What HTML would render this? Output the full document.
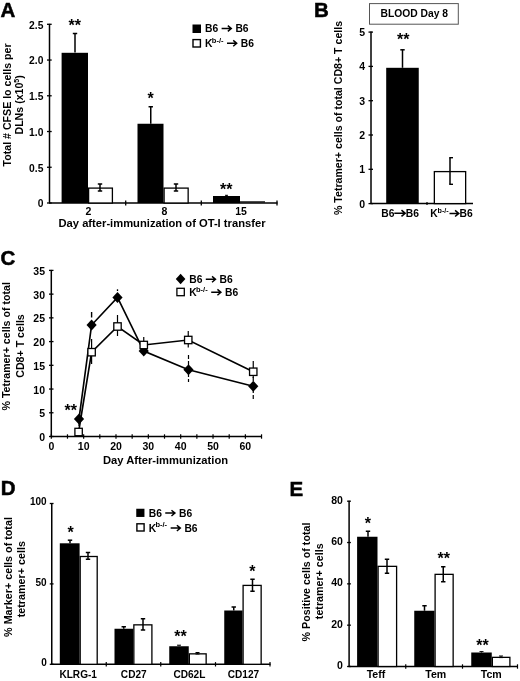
<!DOCTYPE html><html><head><meta charset="utf-8"><style>html,body{margin:0;padding:0;background:#fff}svg{display:block;filter:blur(0.3px)}</style></head><body>
<svg width="520" height="681" viewBox="0 0 520 681" font-family="Liberation Sans, sans-serif" font-weight="bold" fill="#000">
<rect width="520" height="681" fill="#fff"/>
<text x="0.5" y="17.3" font-size="20.5" text-anchor="start" stroke="#000" stroke-width="0.5">A</text>
<line x1="49.5" y1="23.8" x2="49.5" y2="203" stroke="#000" stroke-width="1.5" />
<line x1="49.0" y1="203" x2="277.5" y2="203" stroke="#000" stroke-width="1.5" />
<line x1="47.0" y1="203.0" x2="51.7" y2="203.0" stroke="#000" stroke-width="1.3" />
<text x="43.4" y="207.3" font-size="10.3" text-anchor="end" >0</text>
<line x1="47.0" y1="167.26" x2="51.7" y2="167.26" stroke="#000" stroke-width="1.3" />
<text x="43.4" y="171.56" font-size="10.3" text-anchor="end" >0.5</text>
<line x1="47.0" y1="131.52" x2="51.7" y2="131.52" stroke="#000" stroke-width="1.3" />
<text x="43.4" y="135.82000000000002" font-size="10.3" text-anchor="end" >1.0</text>
<line x1="47.0" y1="95.78000000000002" x2="51.7" y2="95.78000000000002" stroke="#000" stroke-width="1.3" />
<text x="43.4" y="100.08000000000001" font-size="10.3" text-anchor="end" >1.5</text>
<line x1="47.0" y1="60.04000000000002" x2="51.7" y2="60.04000000000002" stroke="#000" stroke-width="1.3" />
<text x="43.4" y="64.34000000000002" font-size="10.3" text-anchor="end" >2.0</text>
<line x1="47.0" y1="24.30000000000001" x2="51.7" y2="24.30000000000001" stroke="#000" stroke-width="1.3" />
<text x="43.4" y="28.600000000000012" font-size="10.3" text-anchor="end" >2.5</text>
<line x1="125.7" y1="200.5" x2="125.7" y2="205.5" stroke="#000" stroke-width="1.3" />
<line x1="201.3" y1="200.5" x2="201.3" y2="205.5" stroke="#000" stroke-width="1.3" />
<line x1="277" y1="200.5" x2="277" y2="205.5" stroke="#000" stroke-width="1.3" />
<rect x="61.6" y="52.8" width="26.4" height="150.2" fill="#000"/>
<rect x="88.6" y="188.1" width="23.8" height="14.9" fill="#fff" stroke="#000" stroke-width="1.3"/>
<line x1="75" y1="33.5" x2="75" y2="52.5" stroke="#000" stroke-width="1.5" />
<line x1="72.8" y1="33.5" x2="77.2" y2="33.5" stroke="#000" stroke-width="1.5" />
<line x1="100" y1="184" x2="100" y2="191" stroke="#000" stroke-width="1.5" />
<line x1="97.8" y1="184" x2="102.2" y2="184" stroke="#000" stroke-width="1.5" />
<line x1="97.8" y1="191" x2="102.2" y2="191" stroke="#000" stroke-width="1.5" />
<rect x="137.5" y="123.75" width="26.0" height="79.25" fill="#000"/>
<rect x="164.1" y="188.1" width="24.05" height="14.9" fill="#fff" stroke="#000" stroke-width="1.3"/>
<line x1="150.75" y1="106.75" x2="150.75" y2="123.75" stroke="#000" stroke-width="1.5" />
<line x1="148.55" y1="106.75" x2="152.95" y2="106.75" stroke="#000" stroke-width="1.5" />
<line x1="176" y1="184" x2="176" y2="191" stroke="#000" stroke-width="1.5" />
<line x1="173.8" y1="184" x2="178.2" y2="184" stroke="#000" stroke-width="1.5" />
<line x1="173.8" y1="191" x2="178.2" y2="191" stroke="#000" stroke-width="1.5" />
<rect x="213" y="196" width="27" height="7" fill="#000"/>
<line x1="240" y1="201.9" x2="265" y2="201.9" stroke="#000" stroke-width="1.2" />
<line x1="226.5" y1="195.3" x2="226.5" y2="196" stroke="#000" stroke-width="1" />
<line x1="225.0" y1="195.3" x2="228.0" y2="195.3" stroke="#000" stroke-width="1" />
<text x="74.8" y="30.5" font-size="16" text-anchor="middle" >**</text>
<text x="150.5" y="104" font-size="16" text-anchor="middle" >*</text>
<text x="226.3" y="195" font-size="16" text-anchor="middle" >**</text>
<text x="88.5" y="215.3" font-size="10.5" text-anchor="middle" >2</text>
<text x="164.3" y="215.3" font-size="10.5" text-anchor="middle" >8</text>
<text x="241" y="215.3" font-size="10.5" text-anchor="middle" >15</text>
<text x="162" y="226.7" font-size="11.2" text-anchor="middle" >Day after-immunization of OT-I transfer</text>
<text transform="translate(10.5,104.9) rotate(-90)" font-size="10.62" text-anchor="middle">Total # CFSE lo cells per</text>
<text transform="translate(22.6,104.8) rotate(-90)" font-size="10.62" text-anchor="middle">DLNs (x10<tspan font-size="7.2" dy="-3.8">5</tspan><tspan dy="3.8">)</tspan></text>
<rect x="192.5" y="24.5" width="8.5" height="8.5" fill="#000"/>
<rect x="193" y="39.6" width="7.4" height="7.4" fill="#fff" stroke="#000" stroke-width="1.4"/>
<text x="205.1" y="32.2" font-size="10.3" text-anchor="start" >B6</text>
<path d="M221.6,28.492000000000004 H230.7 M227.82,25.592000000000006 L231.29999999999998,28.492000000000004 L227.82,31.392000000000003" fill="none" stroke="#000" stroke-width="1.45" stroke-linejoin="miter"/>
<text x="235.4" y="32.2" font-size="10.3" text-anchor="start" >B6</text>
<text x="205.1" y="47" font-size="10.3" text-anchor="start" >K</text>
<text x="211.79999999999998" y="42.571" font-size="7.519" text-anchor="start" >b-/-</text>
<path d="M227.0,43.292 H236.1 M233.22,40.392 L236.7,43.292 L233.22,46.192" fill="none" stroke="#000" stroke-width="1.45" stroke-linejoin="miter"/>
<text x="240.8" y="47" font-size="10.3" text-anchor="start" >B6</text>
<text x="314" y="17.3" font-size="20.5" text-anchor="start" stroke="#000" stroke-width="0.5">B</text>
<rect x="369.5" y="3.6" width="88.8" height="20.6" fill="#fff" stroke="#555" stroke-width="1"/>
<text x="414.3" y="17.4" font-size="10.3" text-anchor="middle" >BLOOD Day 8</text>
<line x1="371" y1="31.6" x2="371" y2="203.6" stroke="#000" stroke-width="1.5" />
<line x1="370.5" y1="203.6" x2="473" y2="203.6" stroke="#000" stroke-width="1.5" />
<line x1="368.5" y1="203.6" x2="373" y2="203.6" stroke="#000" stroke-width="1.3" />
<text x="365.2" y="207.5" font-size="10.5" text-anchor="end" >0</text>
<line x1="368.5" y1="169.3" x2="373" y2="169.3" stroke="#000" stroke-width="1.3" />
<text x="365.2" y="173.20000000000002" font-size="10.5" text-anchor="end" >1</text>
<line x1="368.5" y1="135.0" x2="373" y2="135.0" stroke="#000" stroke-width="1.3" />
<text x="365.2" y="138.9" font-size="10.5" text-anchor="end" >2</text>
<line x1="368.5" y1="100.7" x2="373" y2="100.7" stroke="#000" stroke-width="1.3" />
<text x="365.2" y="104.60000000000001" font-size="10.5" text-anchor="end" >3</text>
<line x1="368.5" y1="66.4" x2="373" y2="66.4" stroke="#000" stroke-width="1.3" />
<text x="365.2" y="70.30000000000001" font-size="10.5" text-anchor="end" >4</text>
<line x1="368.5" y1="32.099999999999994" x2="373" y2="32.099999999999994" stroke="#000" stroke-width="1.3" />
<text x="365.2" y="35.99999999999999" font-size="10.5" text-anchor="end" >5</text>
<line x1="427" y1="202.1" x2="427" y2="205.1" stroke="#000" stroke-width="1.2" />
<rect x="386.2" y="67.8" width="32.55000000000001" height="135.8" fill="#000"/>
<line x1="402.5" y1="49.8" x2="402.5" y2="67.8" stroke="#000" stroke-width="1.5" />
<line x1="400.3" y1="49.8" x2="404.7" y2="49.8" stroke="#000" stroke-width="1.5" />
<rect x="434.35" y="171.6" width="31.3" height="31.999999999999993" fill="#fff" stroke="#000" stroke-width="1.3"/>
<line x1="450" y1="157.5" x2="450" y2="184.5" stroke="#000" stroke-width="1.5" />
<line x1="449.3" y1="157.7" x2="453" y2="157.7" stroke="#000" stroke-width="1.4" />
<line x1="449.3" y1="184.3" x2="453" y2="184.3" stroke="#000" stroke-width="1.4" />
<text x="403.2" y="45.2" font-size="16" text-anchor="middle" >**</text>
<text x="381.3" y="217" font-size="10.3" text-anchor="start" >B6</text>
<path d="M394.3,213.3 H404.59999999999997 M401.47999999999996,210.20000000000002 L405.2,213.3 L401.47999999999996,216.4" fill="none" stroke="#000" stroke-width="1.5" stroke-linejoin="miter"/>
<text x="405.8" y="217" font-size="10.3" text-anchor="start" >B6</text>
<text x="430.2" y="217" font-size="10.3" text-anchor="start" >K</text>
<text x="437.5" y="212.6" font-size="7.2" text-anchor="start" >b-/-</text>
<path d="M449.5,213.4 H458.2 M455.08,210.3 L458.8,213.4 L455.08,216.5" fill="none" stroke="#000" stroke-width="1.5" stroke-linejoin="miter"/>
<text x="459.6" y="217" font-size="10.3" text-anchor="start" >B6</text>
<text transform="translate(342,118) rotate(-90)" font-size="10.6" text-anchor="middle">% Tetramer+ cells of total CD8+ T cells</text>
<text x="0.5" y="265.3" font-size="20.5" text-anchor="start" stroke="#000" stroke-width="0.5">C</text>
<line x1="51.3" y1="269.9" x2="51.3" y2="436.5" stroke="#000" stroke-width="1.5" />
<line x1="50.8" y1="436.5" x2="262" y2="436.5" stroke="#000" stroke-width="1.5" />
<line x1="49.0" y1="436.5" x2="53.5" y2="436.5" stroke="#000" stroke-width="1.3" />
<text x="45" y="441.1" font-size="10.5" text-anchor="end" >0</text>
<line x1="49.0" y1="412.77142857142854" x2="53.5" y2="412.77142857142854" stroke="#000" stroke-width="1.3" />
<text x="45" y="417.37142857142857" font-size="10.5" text-anchor="end" >5</text>
<line x1="49.0" y1="389.04285714285714" x2="53.5" y2="389.04285714285714" stroke="#000" stroke-width="1.3" />
<text x="45" y="393.64285714285717" font-size="10.5" text-anchor="end" >10</text>
<line x1="49.0" y1="365.3142857142857" x2="53.5" y2="365.3142857142857" stroke="#000" stroke-width="1.3" />
<text x="45" y="369.9142857142857" font-size="10.5" text-anchor="end" >15</text>
<line x1="49.0" y1="341.5857142857143" x2="53.5" y2="341.5857142857143" stroke="#000" stroke-width="1.3" />
<text x="45" y="346.1857142857143" font-size="10.5" text-anchor="end" >20</text>
<line x1="49.0" y1="317.85714285714283" x2="53.5" y2="317.85714285714283" stroke="#000" stroke-width="1.3" />
<text x="45" y="322.45714285714286" font-size="10.5" text-anchor="end" >25</text>
<line x1="49.0" y1="294.1285714285714" x2="53.5" y2="294.1285714285714" stroke="#000" stroke-width="1.3" />
<text x="45" y="298.7285714285714" font-size="10.5" text-anchor="end" >30</text>
<line x1="49.0" y1="270.4" x2="53.5" y2="270.4" stroke="#000" stroke-width="1.3" />
<text x="45" y="275.0" font-size="10.5" text-anchor="end" >35</text>
<line x1="51.3" y1="434.3" x2="51.3" y2="438.7" stroke="#000" stroke-width="1.2" />
<line x1="67.47307692307692" y1="434.3" x2="67.47307692307692" y2="438.7" stroke="#000" stroke-width="1.2" />
<line x1="83.64615384615385" y1="434.3" x2="83.64615384615385" y2="438.7" stroke="#000" stroke-width="1.2" />
<line x1="99.81923076923077" y1="434.3" x2="99.81923076923077" y2="438.7" stroke="#000" stroke-width="1.2" />
<line x1="115.99230769230769" y1="434.3" x2="115.99230769230769" y2="438.7" stroke="#000" stroke-width="1.2" />
<line x1="132.1653846153846" y1="434.3" x2="132.1653846153846" y2="438.7" stroke="#000" stroke-width="1.2" />
<line x1="148.33846153846156" y1="434.3" x2="148.33846153846156" y2="438.7" stroke="#000" stroke-width="1.2" />
<line x1="164.51153846153846" y1="434.3" x2="164.51153846153846" y2="438.7" stroke="#000" stroke-width="1.2" />
<line x1="180.68461538461537" y1="434.3" x2="180.68461538461537" y2="438.7" stroke="#000" stroke-width="1.2" />
<line x1="196.85769230769233" y1="434.3" x2="196.85769230769233" y2="438.7" stroke="#000" stroke-width="1.2" />
<line x1="213.03076923076924" y1="434.3" x2="213.03076923076924" y2="438.7" stroke="#000" stroke-width="1.2" />
<line x1="229.20384615384614" y1="434.3" x2="229.20384615384614" y2="438.7" stroke="#000" stroke-width="1.2" />
<line x1="245.3769230769231" y1="434.3" x2="245.3769230769231" y2="438.7" stroke="#000" stroke-width="1.2" />
<line x1="261.55" y1="434.3" x2="261.55" y2="438.7" stroke="#000" stroke-width="1.2" />
<text x="51.3" y="450.3" font-size="10.5" text-anchor="middle" >0</text>
<text x="83.64615384615385" y="450.3" font-size="10.5" text-anchor="middle" >10</text>
<text x="115.99230769230769" y="450.3" font-size="10.5" text-anchor="middle" >20</text>
<text x="148.33846153846156" y="450.3" font-size="10.5" text-anchor="middle" >30</text>
<text x="180.68461538461537" y="450.3" font-size="10.5" text-anchor="middle" >40</text>
<text x="213.03076923076924" y="450.3" font-size="10.5" text-anchor="middle" >50</text>
<text x="245.3769230769231" y="450.3" font-size="10.5" text-anchor="middle" >60</text>
<text x="165.5" y="464" font-size="11.2" text-anchor="middle" >Day After-immunization</text>
<text transform="translate(10.2,346.3) rotate(-90)" font-size="10.65" text-anchor="middle">% Tetramer+ cells of total</text>
<text transform="translate(24,346) rotate(-90)" font-size="10.65" text-anchor="middle">CD8+ T cells</text>
<polyline fill="none" stroke="#000" stroke-width="1.65" points="79,418.9 91.6,325 117.5,297.5 143.75,351 188.5,369.75 253.25,386.25"/>
<polyline fill="none" stroke="#000" stroke-width="1.65" points="78.6,432 91.6,352.2 117.5,326.5 143.75,345 188.25,340 253.25,371.75"/>
<line x1="91.6" y1="312" x2="91.6" y2="317.5" stroke="#000" stroke-width="1.4" />
<line x1="117.5" y1="289.3" x2="117.5" y2="291" stroke="#000" stroke-width="1.3" />
<line x1="188.5" y1="355" x2="188.5" y2="382" stroke="#000" stroke-width="1.2" stroke-dasharray="4 2"/>
<line x1="253.25" y1="377" x2="253.25" y2="400" stroke="#000" stroke-width="1.2" stroke-dasharray="4 2"/>
<line x1="79" y1="418" x2="79" y2="426" stroke="#000" stroke-width="1.2" />
<line x1="91.6" y1="339" x2="91.6" y2="364" stroke="#000" stroke-width="1.2" />
<line x1="117.5" y1="315" x2="117.5" y2="336" stroke="#000" stroke-width="1.2" />
<line x1="143.75" y1="337" x2="143.75" y2="352" stroke="#000" stroke-width="1.2" />
<line x1="188.25" y1="331" x2="188.25" y2="347.5" stroke="#000" stroke-width="1.2" />
<line x1="253.25" y1="361" x2="253.25" y2="378" stroke="#000" stroke-width="1.2" />
<polygon points="79,413.4 84.1,418.9 79,424.4 73.9,418.9" fill="#000"/>
<polygon points="91.6,319.5 96.69999999999999,325 91.6,330.5 86.5,325" fill="#000"/>
<polygon points="117.5,292.0 122.6,297.5 117.5,303.0 112.4,297.5" fill="#000"/>
<polygon points="143.75,345.5 148.85,351 143.75,356.5 138.65,351" fill="#000"/>
<polygon points="188.5,364.25 193.6,369.75 188.5,375.25 183.4,369.75" fill="#000"/>
<polygon points="253.25,380.75 258.35,386.25 253.25,391.75 248.15,386.25" fill="#000"/>
<rect x="74.89999999999999" y="428.3" width="7.4" height="7.4" fill="#fff" stroke="#000" stroke-width="1.3"/>
<rect x="87.89999999999999" y="348.5" width="7.4" height="7.4" fill="#fff" stroke="#000" stroke-width="1.3"/>
<rect x="113.8" y="322.8" width="7.4" height="7.4" fill="#fff" stroke="#000" stroke-width="1.3"/>
<rect x="140.05" y="341.3" width="7.4" height="7.4" fill="#fff" stroke="#000" stroke-width="1.3"/>
<rect x="184.55" y="336.3" width="7.4" height="7.4" fill="#fff" stroke="#000" stroke-width="1.3"/>
<rect x="249.55" y="368.05" width="7.4" height="7.4" fill="#fff" stroke="#000" stroke-width="1.3"/>
<text x="70.8" y="416.2" font-size="16" text-anchor="middle" >**</text>
<polygon points="180.6,273.7 185.4,279 180.6,284.3 175.79999999999998,279" fill="#000"/>
<rect x="176.9" y="288.3" width="7.4" height="7.4" fill="#fff" stroke="#000" stroke-width="1.3"/>
<text x="189.3" y="283" font-size="10.3" text-anchor="start" >B6</text>
<path d="M205.8,279.292 H214.9 M212.02,276.392 L215.5,279.292 L212.02,282.19199999999995" fill="none" stroke="#000" stroke-width="1.45" stroke-linejoin="miter"/>
<text x="219.60000000000002" y="283" font-size="10.3" text-anchor="start" >B6</text>
<text x="189.3" y="296" font-size="10.3" text-anchor="start" >K</text>
<text x="196.0" y="291.571" font-size="7.519" text-anchor="start" >b-/-</text>
<path d="M211.20000000000002,292.292 H220.3 M217.42000000000002,289.392 L220.9,292.292 L217.42000000000002,295.19199999999995" fill="none" stroke="#000" stroke-width="1.45" stroke-linejoin="miter"/>
<text x="225.0" y="296" font-size="10.3" text-anchor="start" >B6</text>
<text x="0.8" y="495.3" font-size="20.5" text-anchor="start" stroke="#000" stroke-width="0.5">D</text>
<line x1="51.75" y1="503.0" x2="51.75" y2="664.3" stroke="#000" stroke-width="1.5" />
<line x1="51.25" y1="664.3" x2="270.5" y2="664.3" stroke="#000" stroke-width="1.5" />
<line x1="49.75" y1="664.3" x2="53.55" y2="664.3" stroke="#000" stroke-width="1.3" />
<text x="46.7" y="666.1999999999999" font-size="10" text-anchor="end" >0</text>
<line x1="49.75" y1="583.9" x2="53.55" y2="583.9" stroke="#000" stroke-width="1.3" />
<text x="46.7" y="585.8" font-size="10" text-anchor="end" >50</text>
<line x1="49.75" y1="503.5" x2="53.55" y2="503.5" stroke="#000" stroke-width="1.3" />
<text x="46.7" y="505.4" font-size="10" text-anchor="end" >100</text>
<line x1="106.25" y1="662.0999999999999" x2="106.25" y2="666.5" stroke="#000" stroke-width="1.2" />
<line x1="160.75" y1="662.0999999999999" x2="160.75" y2="666.5" stroke="#000" stroke-width="1.2" />
<line x1="215.5" y1="662.0999999999999" x2="215.5" y2="666.5" stroke="#000" stroke-width="1.2" />
<line x1="270" y1="662.0999999999999" x2="270" y2="666.5" stroke="#000" stroke-width="1.2" />
<rect x="59.8" y="543.3" width="19.799999999999997" height="121.0" fill="#000"/>
<rect x="80.19999999999999" y="556.5" width="17.000000000000004" height="107.79999999999998" fill="#fff" stroke="#000" stroke-width="1.3"/>
<line x1="70" y1="540.2" x2="70" y2="543.3" stroke="#000" stroke-width="1.5" />
<line x1="67.8" y1="540.2" x2="72.2" y2="540.2" stroke="#000" stroke-width="1.5" />
<line x1="88" y1="552.5" x2="88" y2="559.25" stroke="#000" stroke-width="1.5" />
<line x1="85.8" y1="552.5" x2="90.2" y2="552.5" stroke="#000" stroke-width="1.5" />
<line x1="85.8" y1="559.25" x2="90.2" y2="559.25" stroke="#000" stroke-width="1.5" />
<rect x="114.5" y="628.75" width="18.75" height="35.549999999999955" fill="#000"/>
<rect x="133.85" y="624.85" width="18.05" height="39.44999999999995" fill="#fff" stroke="#000" stroke-width="1.3"/>
<line x1="123.75" y1="626.75" x2="123.75" y2="628.75" stroke="#000" stroke-width="1.5" />
<line x1="121.55" y1="626.75" x2="125.95" y2="626.75" stroke="#000" stroke-width="1.5" />
<line x1="143" y1="618.75" x2="143" y2="630" stroke="#000" stroke-width="1.5" />
<line x1="140.8" y1="618.75" x2="145.2" y2="618.75" stroke="#000" stroke-width="1.5" />
<line x1="140.8" y1="630" x2="145.2" y2="630" stroke="#000" stroke-width="1.5" />
<rect x="169.25" y="646.25" width="19.5" height="18.049999999999955" fill="#000"/>
<rect x="189.35" y="653.85" width="16.8" height="10.449999999999955" fill="#fff" stroke="#000" stroke-width="1.3"/>
<line x1="179" y1="645.2" x2="179" y2="646.25" stroke="#000" stroke-width="1" />
<line x1="177" y1="645.2" x2="181" y2="645.2" stroke="#000" stroke-width="1" />
<line x1="197.5" y1="652.5" x2="197.5" y2="654" stroke="#000" stroke-width="1" />
<line x1="195.5" y1="652.5" x2="199.5" y2="652.5" stroke="#000" stroke-width="1" />
<line x1="195.5" y1="654" x2="199.5" y2="654" stroke="#000" stroke-width="1" />
<rect x="224.25" y="610.5" width="18.25" height="53.799999999999955" fill="#000"/>
<rect x="243.1" y="585.4" width="18.05" height="78.9" fill="#fff" stroke="#000" stroke-width="1.3"/>
<line x1="233.75" y1="607" x2="233.75" y2="610.5" stroke="#000" stroke-width="1.5" />
<line x1="231.55" y1="607" x2="235.95" y2="607" stroke="#000" stroke-width="1.5" />
<line x1="252.5" y1="579.25" x2="252.5" y2="591.25" stroke="#000" stroke-width="1.5" />
<line x1="250.3" y1="579.25" x2="254.7" y2="579.25" stroke="#000" stroke-width="1.5" />
<line x1="250.3" y1="591.25" x2="254.7" y2="591.25" stroke="#000" stroke-width="1.5" />
<text x="70.6" y="538.2" font-size="16" text-anchor="middle" >*</text>
<text x="180.4" y="642" font-size="16" text-anchor="middle" >**</text>
<text x="252.4" y="576.6" font-size="16" text-anchor="middle" >*</text>
<text x="78.2" y="677.5" font-size="10.1" text-anchor="middle" >KLRG-1</text>
<text x="133.75" y="677.5" font-size="10.1" text-anchor="middle" >CD27</text>
<text x="189.4" y="677.5" font-size="10.1" text-anchor="middle" >CD62L</text>
<text x="243.4" y="677.5" font-size="10.1" text-anchor="middle" >CD127</text>
<text transform="translate(12.4,577) rotate(-90)" font-size="10.75" text-anchor="middle">% Marker+ cells of total</text>
<text transform="translate(24.6,579.2) rotate(-90)" font-size="10.75" text-anchor="middle">tetramer+ cells</text>
<rect x="136.25" y="508.75" width="8.2" height="8.2" fill="#000"/>
<rect x="136.9" y="523.8" width="7.2" height="7.2" fill="#fff" stroke="#000" stroke-width="1.4"/>
<text x="148.75" y="516.8" font-size="10.3" text-anchor="start" >B6</text>
<path d="M165.25,513.092 H174.35 M171.47,510.192 L174.95,513.092 L171.47,515.992" fill="none" stroke="#000" stroke-width="1.45" stroke-linejoin="miter"/>
<text x="179.05" y="516.8" font-size="10.3" text-anchor="start" >B6</text>
<text x="148.75" y="531.8" font-size="10.3" text-anchor="start" >K</text>
<text x="155.45" y="527.371" font-size="7.519" text-anchor="start" >b-/-</text>
<path d="M170.65,528.092 H179.75 M176.87,525.192 L180.35,528.092 L176.87,530.992" fill="none" stroke="#000" stroke-width="1.45" stroke-linejoin="miter"/>
<text x="184.45" y="531.8" font-size="10.3" text-anchor="start" >B6</text>
<text x="289.6" y="495.5" font-size="20.5" text-anchor="start" stroke="#000" stroke-width="0.5">E</text>
<line x1="349.1" y1="500.7" x2="349.1" y2="666.5" stroke="#000" stroke-width="1.5" />
<line x1="348.6" y1="666.5" x2="518" y2="666.5" stroke="#000" stroke-width="1.5" />
<line x1="347.1" y1="666.5" x2="350.90000000000003" y2="666.5" stroke="#000" stroke-width="1.3" />
<text x="342.9" y="668.9" font-size="10.5" text-anchor="end" >0</text>
<line x1="347.1" y1="625.175" x2="350.90000000000003" y2="625.175" stroke="#000" stroke-width="1.3" />
<text x="342.9" y="627.5749999999999" font-size="10.5" text-anchor="end" >20</text>
<line x1="347.1" y1="583.85" x2="350.90000000000003" y2="583.85" stroke="#000" stroke-width="1.3" />
<text x="342.9" y="586.25" font-size="10.5" text-anchor="end" >40</text>
<line x1="347.1" y1="542.525" x2="350.90000000000003" y2="542.525" stroke="#000" stroke-width="1.3" />
<text x="342.9" y="544.925" font-size="10.5" text-anchor="end" >60</text>
<line x1="347.1" y1="501.2" x2="350.90000000000003" y2="501.2" stroke="#000" stroke-width="1.3" />
<text x="342.9" y="503.59999999999997" font-size="10.5" text-anchor="end" >80</text>
<line x1="405.75" y1="664.3" x2="405.75" y2="668.7" stroke="#000" stroke-width="1.2" />
<line x1="462.5" y1="664.3" x2="462.5" y2="668.7" stroke="#000" stroke-width="1.2" />
<line x1="517.5" y1="664.3" x2="517.5" y2="668.7" stroke="#000" stroke-width="1.2" />
<rect x="357.1" y="536.75" width="20.399999999999977" height="129.75" fill="#000"/>
<rect x="378.1" y="566.35" width="18.49999999999999" height="100.15" fill="#fff" stroke="#000" stroke-width="1.3"/>
<line x1="368" y1="531.25" x2="368" y2="536.75" stroke="#000" stroke-width="1.5" />
<line x1="365.8" y1="531.25" x2="370.2" y2="531.25" stroke="#000" stroke-width="1.5" />
<line x1="387" y1="559.25" x2="387" y2="573.25" stroke="#000" stroke-width="1.5" />
<line x1="384.8" y1="559.25" x2="389.2" y2="559.25" stroke="#000" stroke-width="1.5" />
<line x1="384.8" y1="573.25" x2="389.2" y2="573.25" stroke="#000" stroke-width="1.5" />
<rect x="414.25" y="610.75" width="20.25" height="55.75" fill="#000"/>
<rect x="435.1" y="574.35" width="18.05" height="92.15" fill="#fff" stroke="#000" stroke-width="1.3"/>
<line x1="424.5" y1="605.75" x2="424.5" y2="610.75" stroke="#000" stroke-width="1.5" />
<line x1="422.3" y1="605.75" x2="426.7" y2="605.75" stroke="#000" stroke-width="1.5" />
<line x1="443.25" y1="566.75" x2="443.25" y2="581.75" stroke="#000" stroke-width="1.5" />
<line x1="441.05" y1="566.75" x2="445.45" y2="566.75" stroke="#000" stroke-width="1.5" />
<line x1="441.05" y1="581.75" x2="445.45" y2="581.75" stroke="#000" stroke-width="1.5" />
<rect x="471.25" y="652.5" width="20.5" height="14.0" fill="#000"/>
<rect x="492.35" y="657.35" width="17.55" height="9.15" fill="#fff" stroke="#000" stroke-width="1.3"/>
<line x1="481.5" y1="651.6" x2="481.5" y2="652.5" stroke="#000" stroke-width="1" />
<line x1="479.5" y1="651.6" x2="483.5" y2="651.6" stroke="#000" stroke-width="1" />
<line x1="501" y1="656" x2="501" y2="657.6" stroke="#000" stroke-width="1" />
<line x1="499" y1="656" x2="503" y2="656" stroke="#000" stroke-width="1" />
<line x1="499" y1="657.6" x2="503" y2="657.6" stroke="#000" stroke-width="1" />
<text x="367.8" y="528.8" font-size="16" text-anchor="middle" >*</text>
<text x="443.75" y="564" font-size="16" text-anchor="middle" >**</text>
<text x="482.5" y="651" font-size="16" text-anchor="middle" >**</text>
<text x="376" y="678" font-size="10.6" text-anchor="middle" >Teff</text>
<text x="435.8" y="678" font-size="10.6" text-anchor="middle" >Tem</text>
<text x="491.3" y="678" font-size="10.6" text-anchor="middle" >Tcm</text>
<text transform="translate(309.5,582) rotate(-90)" font-size="10.7" text-anchor="middle">% Positive cells of total</text>
<text transform="translate(322.7,581.3) rotate(-90)" font-size="10.7" text-anchor="middle">tetramer+ cells</text>
</svg></body></html>
